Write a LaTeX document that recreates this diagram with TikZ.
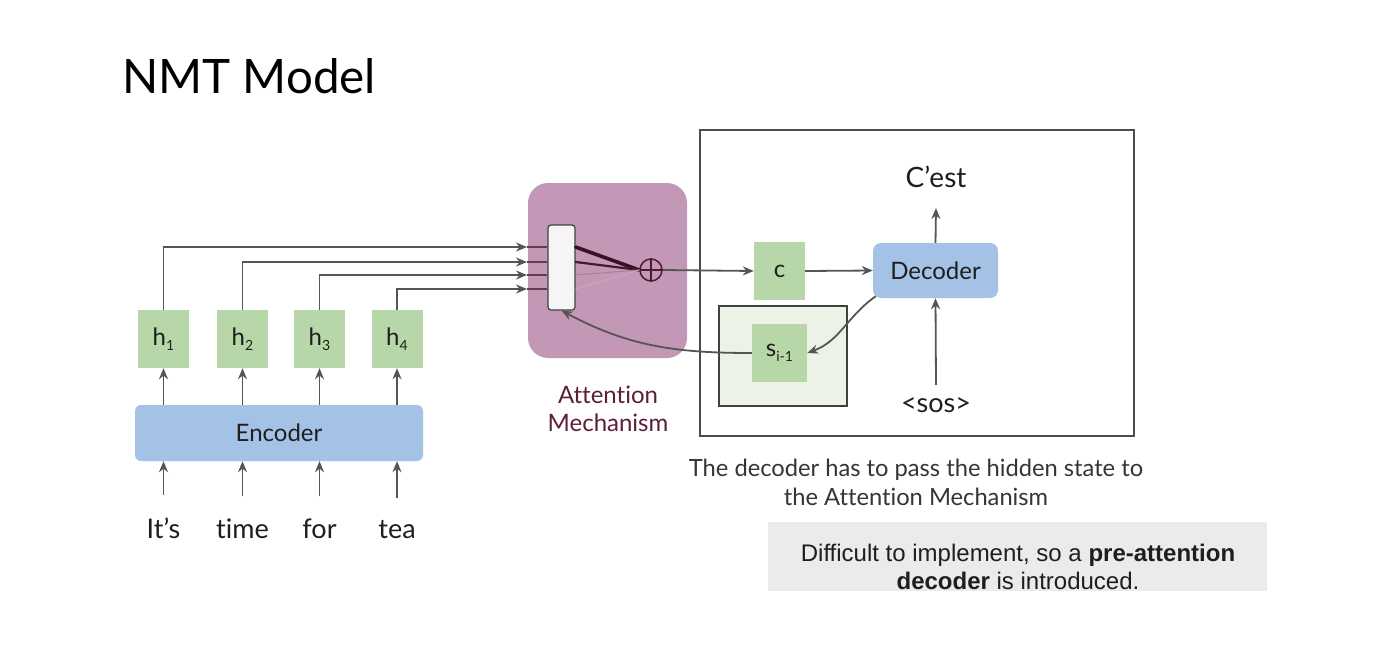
\documentclass[tikz,border=0pt]{standalone}
\usepackage{fontspec}
\setmainfont[Ligatures=NoCommon]{Lato}
\newfontfamily\arialf{Liberation Sans}
\usetikzlibrary{arrows.meta,calc}
\definecolor{lgreen}{RGB}{183,215,168}
\definecolor{lblue}{RGB}{164,194,230}
\definecolor{mauve}{RGB}{195,152,182}
\definecolor{maroon}{RGB}{92,30,58}
\definecolor{conncol}{RGB}{85,85,85}
\definecolor{paleg}{RGB}{236,243,230}
\definecolor{boxgray}{RGB}{235,235,235}
\definecolor{txt}{RGB}{30,30,30}
\newcommand{\subx}[1]{\raisebox{-0.45ex}{\fontsize{14}{14}\selectfont #1}}
\tikzset{
  hbox/.style={fill=lgreen, minimum width=51pt, minimum height=58pt, inner sep=0pt, text=txt, font=\fontsize{24}{24}\selectfont},
  bluebox/.style={fill=lblue, rounded corners=6pt, inner sep=0pt, text=txt, font=\fontsize{24}{24}\selectfont},
  conn/.style={draw=conncol, line width=1.8pt, -{Stealth[length=11pt,width=9pt]}},
  word/.style={font=\fontsize{27}{27}\selectfont, inner sep=0pt, text=txt},
  weightline/.style={draw=maroon!80!black, line cap=round}
}
\begin{document}
\begin{tikzpicture}[x=1pt,y=-1pt]
\useasboundingbox (0,0) rectangle (1378,662);
\fill[white] (0,0) rectangle (1378,662);

% title
\node[anchor=base west, inner sep=0pt, font=\fontsize{47.5}{48}\selectfont, text=black] (title) at (122,93) {NMT Model};

% encoder side
\node[bluebox, minimum width=288pt, minimum height=56pt] (enc) at (279,433) {Encoder};
\node[hbox] (h1) at (163.5,339) {h\subx{1}};
\node[hbox] (h2) at (242.5,339) {h\subx{2}};
\node[hbox] (h3) at (319.5,339) {h\subx{3}};
\node[hbox] (h4) at (397,339) {h\subx{4}};

\node[word, anchor=base] (w1) at (163.5,538) {It’s};
\node[word, anchor=base] (w2) at (242.5,538) {time};
\node[word, anchor=base] (w3) at (319.5,538) {for};
\node[word, anchor=base] (w4) at (397,538) {tea};

\foreach \i in {1,2,3,4}{
  \draw[conn] ([yshift=22pt]w\i.north -| h\i.south) -- (h\i.south |- enc.south);
  \draw[conn] (h\i.south |- enc.north) -- (h\i.south);
}

% attention mechanism
\node[fill=mauve, rounded corners=20pt, minimum width=159pt, minimum height=175pt, inner sep=0pt] (att) at (607.5,270.5) {};
\node[fill=gray!8, draw=gray!50!black, line width=1.2pt, rounded corners=3pt, minimum width=27pt, minimum height=85pt, inner sep=0pt] (bar) at (561.5,267.5) {};
\node[circle, draw=maroon!85!black, line width=1.5pt, minimum size=22pt, inner sep=0pt] (plus) at (651,270) {};
\draw[maroon!85!black, line width=1.5pt] (plus.north) -- (plus.south) (plus.west) -- (plus.east);

\coordinate (a1) at (527,247);
\coordinate (a2) at (527,262);
\coordinate (a3) at (527,275);
\coordinate (a4) at (527,289);
\draw[conn] (h1.north) |- (a1);
\draw[conn] (h2.north) |- (a2);
\draw[conn] (h3.north) |- (a3);
\draw[conn] (h4.north) |- (a4);
\foreach \i in {1,2,3,4}{
  \draw[maroon!70!gray, line width=1.4pt] (a\i) -- (a\i -| bar.west);
}
\draw[weightline, line width=3.6pt, draw=maroon!60!black] (a1 -| bar.east) -- (plus.west);
\draw[weightline, line width=2.2pt] (a2 -| bar.east) -- (plus.west);
\draw[weightline, line width=1pt, draw=maroon!55] (a3 -| bar.east) -- (plus.west);
\draw[weightline, line width=0.7pt, draw=maroon!35] (a4 -| bar.east) -- (plus.west);

\node[align=center, text=maroon, font=\fontsize{24}{28}\selectfont, inner sep=0pt] (attlabel) at (608,409) {Attention\\Mechanism};

% decoder side
\draw[draw=black!70, line width=2pt] (700,130) rectangle (1134,436);
\node[fill=paleg, draw=black!75, line width=1.4pt, minimum width=128pt, minimum height=100pt, inner sep=0pt] (pre) at (783,356) {};
\node[hbox, minimum width=55pt] (s) at (779.5,353) {s\subx{i-1}};
\node[hbox] (c) at (779.5,271) {c};
\node[bluebox, minimum width=125pt, minimum height=55pt, rounded corners=8pt] (dec) at (935.5,270.5) {Decoder};
\node[word, font=\fontsize{28}{28}\selectfont] (cest) at (936,177) {C’est};
\node[word, font=\fontsize{27}{27}\selectfont] (sos) at (936,405) {<sos>};

\draw[conn] (plus.east) -- (c.west);
\draw[conn] (c.east) -- (dec.west);
\draw[conn] (dec.north) -- ([yshift=-20pt]cest.south);
\draw[conn] ([yshift=12pt]sos.north) -- (dec.south);
\draw[conn] ([xshift=3pt,yshift=2pt]dec.south west) to[out=-145,in=20] (s.east);
\draw[conn] (s.west) to[out=180,in=-28] (bar.south);

% captions
\node[align=center, text=txt!90, font=\fontsize{23.7}{29}\selectfont, inner sep=0pt] (cap) at (916,482) {The decoder has to pass the hidden state to\\the Attention Mechanism};
\node[fill=boxgray, minimum width=499pt, minimum height=69pt, inner sep=0pt] (note) at (1017.5,556.5) {};
\node[align=center, text=txt, font=\arialf\fontsize{24}{28}\selectfont, inner sep=0pt] (notetext) at (1018,567) {Difficult to implement, so a \textbf{pre-attention}\\\textbf{decoder} is introduced.};
\end{tikzpicture}
\end{document}
